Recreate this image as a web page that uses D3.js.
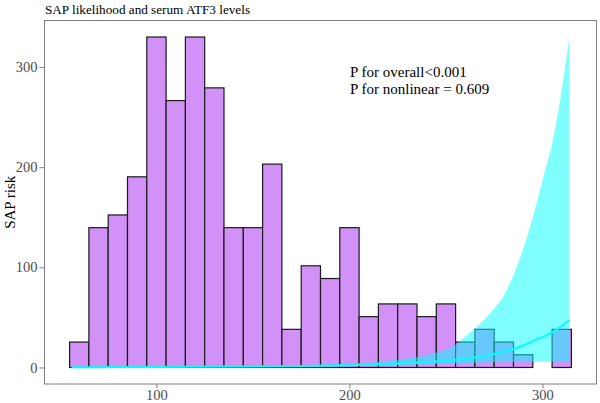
<!DOCTYPE html>
<html>
<head>
<meta charset="utf-8">
<script src="https://cdn.jsdelivr.net/npm/d3@7"></script>
<style>
  body { margin: 0; background: #fff; }
  text { font-family: "Liberation Serif", "Times New Roman", serif; }
</style>
</head>
<body>
<svg id="draw-here"></svg>
<script>
// histogram of ATF3 values (counts per 10-unit bin)
const binLeft = [55, 65, 75, 85, 95, 105, 115, 125, 135, 145, 155, 165, 175,
                 185, 195, 205, 215, 225, 235, 245, 255, 265, 275, 285, 295, 305];
const binWidth = 10;
const binCounts = [2, 11, 12, 15, 26, 21, 26, 22, 11, 11, 16, 3, 8,
                   7, 11, 4, 5, 5, 4, 5, 2, 3, 2, 1, 0, 3];

// restricted cubic spline fit with 95% CI
const atf3 = [56, 80, 100, 120, 150, 180, 200, 220, 240, 250, 255, 260, 265, 270, 275, 280, 286, 291, 297, 301, 305, 314];
const fit = [0.3, 0.36, 0.46, 0.62, 0.93, 1.55, 2.3, 3.5, 5.4, 6.6, 7.6, 8.8, 10, 11.4, 13.4, 16, 19, 22.7, 28, 31, 35, 47.5];
const lower = [0.1, 0.12, 0.2, 0.26, 0.4, 0.8, 1.2, 2.1, 3.1, 3.7, 4, 4.3, 4.6, 4.9, 5.1, 5.3, 5.5, 5.6, 5.8, 5.9, 5.95, 6.1];
const upper = [0.8, 0.9, 1.0, 1.3, 1.9, 2.7, 3.6, 6.7, 12.4, 17.6, 22.7, 31, 39, 48.5, 59, 72, 97, 124, 164, 194, 223, 330];

const xTicks = [100, 200, 300];
const yTicks = [0, 100, 200, 300];
const titleText = "SAP likelihood and serum ATF3 levels";
const yLabel = "SAP risk";
const notes = ["P for overall<0.001", "P for nonlinear = 0.609"];

const W = 600, H = 403;
const panel = {left: 44.5, top: 20.5, right: 596.5, bottom: 384};

const svg = d3.select('#draw-here').attr('width', W).attr('height', H);

// bars scaled so the tallest bin meets the top of the CI band
const histScale = d3.max(upper) / d3.max(binCounts);
const bars = binLeft.map((x0, i) => ({x0: x0, x1: x0 + binWidth, h: binCounts[i] * histScale}));

const xMin = d3.min(binLeft), xMax = d3.max(binLeft) + binWidth;
const xPad = (xMax - xMin) * 0.05;
const x = d3.scaleLinear().domain([xMin - xPad, xMax + xPad]).range([panel.left, panel.right]);

const yMax = d3.max(upper);
const yPad = yMax * 0.05;
const y = d3.scaleLinear().domain([-yPad, yMax + yPad]).range([panel.bottom, panel.top]);

const plot = svg.append('g');

plot.selectAll('rect.bar')
  .data(bars)
  .enter().append('rect')
  .attr('class', 'bar')
  .attr('x', d => x(d.x0))
  .attr('width', d => x(d.x1) - x(d.x0))
  .attr('y', d => y(d.h))
  .attr('height', d => y(0) - y(d.h))
  .attr('fill', '#D291F6')
  .attr('stroke', '#1a1a1a')
  .attr('stroke-width', 1.2);

const band = atf3.map((v, i) => ({x: v, fit: fit[i], lo: lower[i], hi: upper[i]}));

plot.append('path')
  .datum(band)
  .attr('fill', '#00FFFF')
  .attr('fill-opacity', 0.5)
  .attr('d', d3.area()
    .x(d => x(d.x))
    .y0(d => y(d.lo))
    .y1(d => y(d.hi))
    .curve(d3.curveMonotoneX));

plot.append('path')
  .datum(band)
  .attr('fill', 'none')
  .attr('stroke', '#00FFFF')
  .attr('stroke-width', 2)
  .attr('d', d3.line()
    .x(d => x(d.x))
    .y(d => y(d.fit))
    .curve(d3.curveMonotoneX));

// panel border
svg.append('rect')
  .attr('x', panel.left).attr('y', panel.top)
  .attr('width', panel.right - panel.left)
  .attr('height', panel.bottom - panel.top)
  .attr('fill', 'none')
  .attr('stroke', '#7f7f7f')
  .attr('stroke-width', 1);

// axes
const xAxis = svg.append('g')
  .attr('transform', `translate(0,${panel.bottom})`)
  .call(d3.axisBottom(x).tickValues(xTicks).tickSize(4.5).tickPadding(1.5));
const yAxis = svg.append('g')
  .attr('transform', `translate(${panel.left},0)`)
  .call(d3.axisLeft(y).tickValues(yTicks).tickSize(5).tickPadding(2));

[xAxis, yAxis].forEach(a => {
  a.select('.domain').remove();
  a.selectAll('.tick line').attr('stroke', '#7f7f7f');
  a.selectAll('.tick text')
    .attr('fill', '#4D4D4D')
    .style('font-size', '14.5px')
    .style('font-family', '"Liberation Serif", "Times New Roman", serif');
});

svg.append('text')
  .attr('x', 45).attr('y', 13.5)
  .style('font-size', '13.2px')
  .attr('fill', '#000')
  .text(titleText);

svg.append('text')
  .attr('transform', `translate(15,${(panel.top + panel.bottom) / 2}) rotate(-90)`)
  .attr('text-anchor', 'middle')
  .style('font-size', '15px')
  .attr('fill', '#000')
  .text(yLabel);

svg.selectAll('text.note')
  .data(notes)
  .enter().append('text')
  .attr('class', 'note')
  .attr('x', 350)
  .attr('y', (d, i) => 77 + i * 16.6)
  .style('font-size', '15px')
  .attr('fill', '#000')
  .text(d => d);
</script>
</body>
</html>
